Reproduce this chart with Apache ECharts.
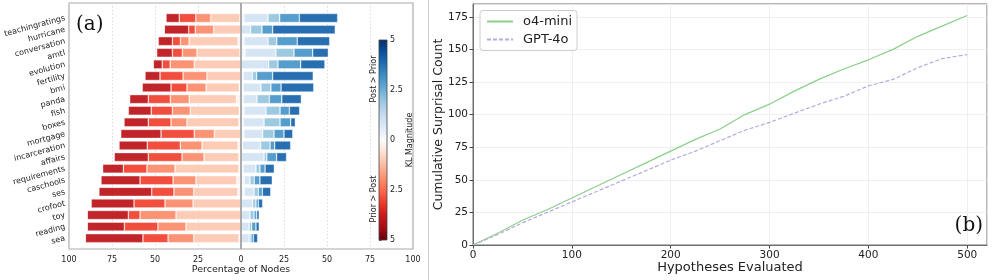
<!DOCTYPE html>
<html>
<head>
<meta charset="utf-8">
<script src="https://cdn.jsdelivr.net/npm/echarts@6/dist/echarts.min.js"></script>
<style>
  html, body { margin: 0; padding: 0; background: #fff; }
  #chart { width: 996px; height: 280px; }
</style>
</head>
<body>
<div id="chart"></div>
<script>
// ---------- Panel (a): distribution of KL magnitude per dataset ----------
const categories = ['teachingratings','hurricane','conversation','amtl','evolution','fertility','bmi','panda','fish','boxes','mortgage','incarceration','affairs','requirements','caschools','ses','crofoot','toy','reading','sea'];

// Prior > Post (left side), percentage of nodes per KL bin, from 0 outward
const negBin0 = [0.6,0,1.7,0.6,0,0,1.0,2.7,1.0,1.2,0,1.7,1.2,1.2,2.5,1.9,0,0,0,1.2];
const negBin1 = [17.0,15.9,28.5,25.0,27.2,19.8,19.3,27.4,28.5,30.2,15.5,21.0,20.3,37.2,23.7,25.6,27.9,37.8,32.0,26.3];
const negBin2 = [8.7,10.7,5.0,8.5,14.0,13.9,11.1,11.0,10.4,9.3,11.7,12.6,12.8,16.3,13.3,11.5,16.3,20.9,16.3,14.9];
const negBin3 = [9.6,3.8,4.7,5.8,4.6,13.4,9.3,12.8,12.3,13.2,19.3,19.2,19.6,13.7,19.2,12.9,18.0,6.8,19.5,14.6];
const negBin4 = [7.7,14.2,8.2,9.1,5.2,8.7,16.7,10.8,13.3,14.1,23.4,16.4,19.9,12.0,22.7,30.7,25.0,23.9,21.6,33.5];

// Post > Prior (right side)
const posBin0 = [1.7,0,1.7,2.3,0,1.3,1.3,1.3,1.7,1.3,1.7,1.0,0,1.3,1.9,1.9,0,0,0,0];
const posBin1 = [14.0,5.6,14.0,18.0,16.1,5.3,10.3,8.0,12.8,12.1,10.9,10.4,13.4,7.4,3.3,5.7,6.8,5.2,4.7,4.7];
const posBin2 = [6.8,6.6,5.1,10.5,5.4,2.5,5.8,7.2,8.2,9.3,6.6,5.5,1.6,2.3,2.5,2.5,1.9,2.4,1.5,1.1];
const posBin3 = [11.4,6.2,11.9,10.9,13.2,9.3,5.9,7.2,5.4,6.2,5.8,2.7,5.7,3.0,3.3,2.3,1.4,1.5,2.5,1.4];
const posBin4 = [22.3,36.4,18.9,9.1,14.1,23.6,19.0,11.4,6.0,2.7,5.1,9.3,5.8,5.4,7.2,4.9,2.5,1.5,1.9,2.5];

const zeroLineX = [0, 0];
const zeroLineY = [0, 1];

// ---------- Panel (b): cumulative surprisal count ----------
const hypotheses = [0,25,50,75,100,125,150,175,200,225,250,275,300,325,350,375,400,425,450,475,500];
const o4mini = [0,9,19,27,36,45,54,63,72,81,89,100,108,118,127,135,142,150,160,168,176];
const gpt4o  = [0,8,17,25,33,41,49,57,65,72,80,88,94,101,108,114,122,127,136,143,146];

const redColors  = ['#fff1ea', '#fdc8b2', '#fc8b6b', '#f0412f', '#bc141a'];
const blueColors = ['#f0f6fc', '#d2e3f3', '#97c6df', '#4896c8', '#1864ab'];

const chart = echarts.init(document.getElementById('chart'), null, { renderer: 'canvas' });

const negBins = [negBin0, negBin1, negBin2, negBin3, negBin4];
const posBins = [posBin0, posBin1, posBin2, posBin3, posBin4];

const barSeries = [];
negBins.forEach((arr, i) => {
  barSeries.push({
    type: 'bar', name: 'neg' + i, stack: 'kl', xAxisIndex: 0, yAxisIndex: 0,
    barWidth: 9, silent: true,
    itemStyle: { color: redColors[i], opacity: 0.93, borderColor: 'rgba(255,255,255,0.7)', borderWidth: 0.6 },
    data: arr.map(v => -v)
  });
});
posBins.forEach((arr, i) => {
  barSeries.push({
    type: 'bar', name: 'pos' + i, stack: 'kl', xAxisIndex: 0, yAxisIndex: 0,
    barWidth: 9, silent: true,
    itemStyle: { color: blueColors[i], opacity: 0.93, borderColor: 'rgba(255,255,255,0.7)', borderWidth: 0.6 },
    data: arr
  });
});

const absFmt = v => String(Math.abs(v));

const option = {
  animation: false,
  backgroundColor: '#ffffff',
  textStyle: { fontFamily: 'DejaVu Sans' },
  grid: [
    { left: 69, top: 12.2, width: 344, height: 231.8, show: false },
    { left: 69, top: 3, width: 344, height: 250, show: true, borderColor: '#aaaaaa', borderWidth: 1.2, z: 0 },
    { left: 379, top: 40, width: 8, height: 200, show: false },
    { left: 473, top: 4, width: 514, height: 241, show: true, borderColor: '#6e6e6e', borderWidth: 1 }
  ],
  xAxis: [
    { gridIndex: 0, type: 'value', min: -100, max: 100, show: false },
    { gridIndex: 1, type: 'value', min: -100, max: 100, interval: 25,
      axisLine: { show: false }, axisTick: { show: false },
      axisLabel: { formatter: absFmt, fontSize: 8, color: '#222', margin: 6.5 },
      splitLine: { show: true, lineStyle: { color: '#d4d4d4', type: [1.5, 2], width: 0.8 } },
      name: 'Percentage of Nodes', nameLocation: 'middle', nameGap: 16, nameMoveOverlap: false,
      nameTextStyle: { fontSize: 9.5, color: '#222' } },
    { gridIndex: 2, type: 'value', min: 0, max: 1, show: false },
    { gridIndex: 3, type: 'value', min: 0, max: 520, interval: 100,
      axisLine: { show: true, lineStyle: { color: '#6e6e6e' } },
      axisTick: { show: true, length: 3.5, lineStyle: { color: '#444' } },
      axisLabel: { fontSize: 10.5, color: '#222', margin: 5, showMaxLabel: false },
      splitLine: { show: true, lineStyle: { color: '#ebebeb', width: 0.8 } },
      name: 'Hypotheses Evaluated', nameLocation: 'middle', nameGap: 16.5, nameMoveOverlap: false,
      nameTextStyle: { fontSize: 13, color: '#222', verticalAlign: 'top' } }
  ],
  yAxis: [
    { gridIndex: 0, type: 'category', data: categories, inverse: true,
      axisLine: { show: false }, axisTick: { show: false },
      axisLabel: { rotate: 15, fontSize: 8, color: '#222', margin: 4 } },
    { gridIndex: 1, type: 'value', min: 0, max: 1, show: false },
    { gridIndex: 2, type: 'value', min: -5, max: 5, interval: 2.5, position: 'right',
      axisLine: { show: false },
      axisTick: { show: true, length: 2.5, lineStyle: { color: '#333', width: 0.8 } },
      axisLabel: { formatter: absFmt, fontSize: 8, color: '#222', margin: 3 },
      splitLine: { show: false },
      name: 'KL Magnitude', nameLocation: 'middle', nameRotate: 90, nameGap: 18.5, nameMoveOverlap: false,
      nameTextStyle: { fontSize: 8, color: '#222' } },
    { gridIndex: 3, type: 'value', min: 0, max: 184.8, interval: 25,
      axisLine: { show: true, lineStyle: { color: '#6e6e6e' } },
      axisTick: { show: true, length: 3.5, lineStyle: { color: '#444' } },
      axisLabel: { fontSize: 10.5, color: '#222', margin: 5, showMaxLabel: false },
      splitLine: { show: true, lineStyle: { color: '#ebebeb', width: 0.8 } },
      name: 'Cumulative Surprisal Count', nameLocation: 'middle', nameGap: 28, nameMoveOverlap: false,
      nameTextStyle: { fontSize: 12.5, color: '#222' } }
  ],
  legend: {
    orient: 'vertical', left: 480, top: 10.5,
    padding: [4.5, 5, 4.5, 6], itemGap: 5, itemWidth: 26, itemHeight: 14,
    borderColor: '#cccccc', borderWidth: 1, borderRadius: 3,
    backgroundColor: 'rgba(255,255,255,0.8)',
    itemStyle: { opacity: 0 },
    textStyle: { fontSize: 13, color: '#222', padding: [0, 0, 0, 5] },
    data: ['o4-mini', 'GPT-4o']
  },
  series: barSeries.concat([
    { type: 'line', name: 'zero', xAxisIndex: 1, yAxisIndex: 1, silent: true, symbol: 'none', z: 5,
      lineStyle: { color: '#a2a2a2', width: 1.8 },
      data: zeroLineX.map((x, i) => [x, zeroLineY[i]]) },
    { type: 'line', name: 'o4-mini', xAxisIndex: 3, yAxisIndex: 3, symbol: 'none', showSymbol: false,
      lineStyle: { color: '#8ccf8c', width: 1.2 }, itemStyle: { color: '#8ccf8c' },
      data: hypotheses.map((x, i) => [x, o4mini[i]]) },
    { type: 'line', name: 'GPT-4o', xAxisIndex: 3, yAxisIndex: 3, symbol: 'none', showSymbol: false,
      lineStyle: { color: '#b8aadd', width: 1.2, type: [4, 2] }, itemStyle: { color: '#b8aadd' },
      data: hypotheses.map((x, i) => [x, gpt4o[i]]) }
  ]),
  graphic: [
    { type: 'line', shape: { x1: 428.5, y1: 0, x2: 428.5, y2: 280 }, style: { stroke: '#cfcfcf', lineWidth: 1 }, silent: true },
    { type: 'rect', shape: { x: 379, y: 40, width: 8, height: 200 }, silent: true, z: 10,
      style: {
        stroke: '#444', lineWidth: 0.8,
        fill: new echarts.graphic.LinearGradient(0, 0, 0, 1, [
          { offset: 0.0,    color: '#08306b' },
          { offset: 0.0625, color: '#08519c' },
          { offset: 0.125,  color: '#2171b5' },
          { offset: 0.1875, color: '#4292c6' },
          { offset: 0.25,   color: '#6baed6' },
          { offset: 0.3125, color: '#9ecae1' },
          { offset: 0.375,  color: '#c6dbef' },
          { offset: 0.4375, color: '#deebf7' },
          { offset: 0.5,    color: '#fbfbfb' },
          { offset: 0.5625, color: '#fee0d2' },
          { offset: 0.625,  color: '#fcbba1' },
          { offset: 0.6875, color: '#fc9272' },
          { offset: 0.75,   color: '#fb6a4a' },
          { offset: 0.8125, color: '#ef3b2c' },
          { offset: 0.875,  color: '#cb181d' },
          { offset: 0.9375, color: '#a50f15' },
          { offset: 1.0,    color: '#67000d' }
        ])
      } },
    { type: 'text', x: 374, y: 79, rotation: Math.PI / 2, silent: true, z: 10,
      style: { text: 'Post > Prior', font: '8px "DejaVu Sans"', fill: '#222', align: 'center', verticalAlign: 'middle' } },
    { type: 'text', x: 374, y: 199, rotation: Math.PI / 2, silent: true, z: 10,
      style: { text: 'Prior > Post', font: '8px "DejaVu Sans"', fill: '#222', align: 'center', verticalAlign: 'middle' } },
    { type: 'text', x: 76, y: 25, silent: true, z: 10,
      style: { text: '(a)', font: '20px "DejaVu Serif"', fill: '#111', align: 'left', verticalAlign: 'middle' } },
    { type: 'text', x: 983, y: 226, silent: true, z: 10,
      style: { text: '(b)', font: '20px "DejaVu Serif"', fill: '#111', align: 'right', verticalAlign: 'middle' } }
  ]
};

chart.setOption(option);
</script>
</body>
</html>
